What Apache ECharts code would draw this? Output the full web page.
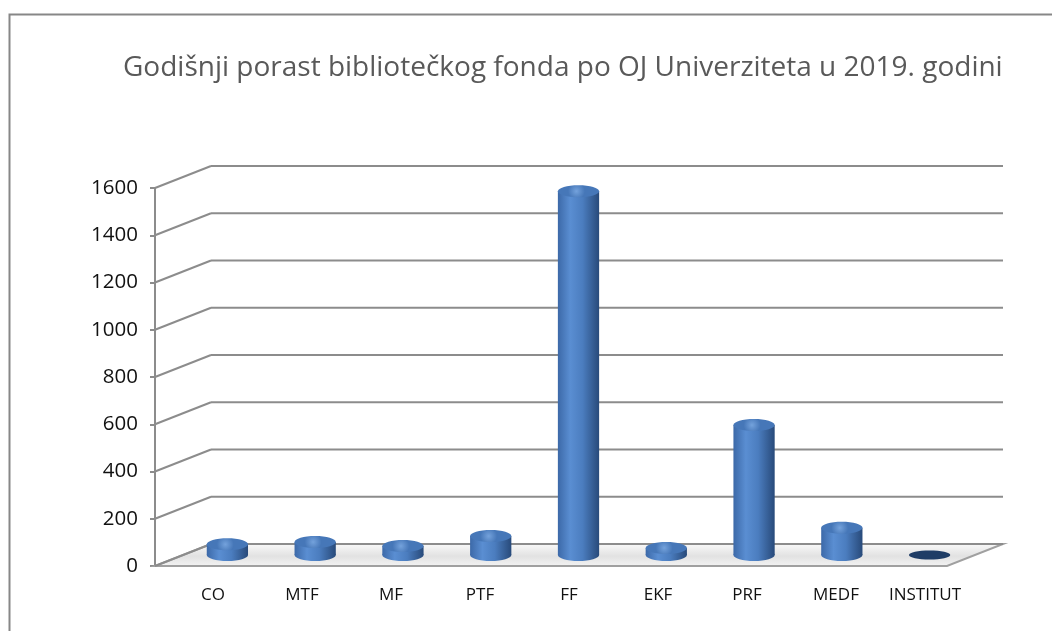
<!DOCTYPE html>
<html>
<head>
<meta charset="utf-8">
<script src="https://cdn.jsdelivr.net/npm/echarts@6/dist/echarts.min.js"></script>
<style>
  html, body { margin: 0; padding: 0; background: #fff; }
  #chart { width: 1052px; height: 631px; }
</style>
</head>
<body>
<div id="chart"></div>
<script>
// podaci
const categories = ['CO', 'MTF', 'MF', 'PTF', 'FF', 'EKF', 'PRF', 'MEDF', 'INSTITUT']
const values = [45, 55, 38, 80, 1540, 30, 550, 115, 0]
const yTicks = [0, 200, 400, 600, 800, 1000, 1200, 1400, 1600]
const titleText = 'Godišnji porast bibliotečkog fonda po OJ Univerziteta u 2019. godini'

const depth = [56, -22] // pomak zadnjeg zida
const lineColor = '#8c8c8c'
const font = 'Open Sans'

let chart = echarts.init(document.getElementById('chart'))

// pod
function renderFloor(params, api) {
    const a = api.coord([0, 0])
    const b = api.coord([categories.length, 0])
    return {
        type: 'polygon',
        shape: {
            points: [a, b, [b[0] + depth[0], b[1] + depth[1]], [a[0] + depth[0], a[1] + depth[1]]]
        },
        style: {
            fill: new echarts.graphic.LinearGradient(0, 0, 0, 1, [
                { offset: 0, color: '#fafafa' },
                { offset: 0.55, color: '#e2e2e2' },
                { offset: 1, color: '#f4f4f4' }
            ]),
            stroke: '#a0a0a0',
            lineWidth: 2
        }
    }
}

// linije mreze (kose + zadnji zid)
function renderGrid(params, api) {
    const v = api.value(1)
    const p0 = api.coord([0, v])
    const p1 = api.coord([categories.length, v])
    const l = [p0[0] + depth[0], p0[1] + depth[1]]
    const r = [p1[0] + depth[0], p1[1] + depth[1]]
    return {
        type: 'group',
        children: [
            { type: 'line', shape: { x1: p0[0], y1: p0[1], x2: l[0], y2: l[1] }, style: { stroke: lineColor, lineWidth: 2 } },
            { type: 'line', shape: { x1: l[0], y1: l[1], x2: r[0], y2: r[1] }, style: { stroke: lineColor, lineWidth: 2 } }
        ]
    }
}

// cilindri
function renderCylinder(params, api) {
    const i = api.value(0)
    const v = api.value(1)
    const base = api.coord([i, 0])
    const top = api.coord([i, v])
    const w = api.size([1, 0])[0] * 0.47
    const half = w / 2
    const ry = 6
    const bodyFill = new echarts.graphic.LinearGradient(0, 0, 1, 0, [
        { offset: 0, color: '#3c69a8' },
        { offset: 0.3, color: '#5a8ed2' },
        { offset: 0.6, color: '#4b7dbf' },
        { offset: 1, color: '#284a7a' }
    ])
    const children = []
    if (base[1] - top[1] > 1) {
        children.push({
            type: 'ellipse',
            shape: { cx: base[0], cy: base[1], rx: half, ry: ry },
            style: { fill: bodyFill }
        })
        children.push({
            type: 'rect',
            shape: { x: base[0] - half, y: top[1], width: w, height: base[1] - top[1] },
            style: { fill: bodyFill }
        })
        children.push({
            type: 'ellipse',
            shape: { cx: top[0], cy: top[1], rx: half, ry: ry },
            style: {
                fill: new echarts.graphic.RadialGradient(0.45, 0.5, 0.7, [
                    { offset: 0, color: '#74a2dc' },
                    { offset: 1, color: '#4677b8' }
                ])
            }
        })
    } else {
        children.push({
            type: 'ellipse',
            shape: { cx: base[0], cy: base[1], rx: half, ry: ry - 1.5 },
            style: { fill: '#1f3d66' }
        })
    }
    return { type: 'group', children: children }
}

let option = {
    backgroundColor: '#fff',
    animation: false,
    title: {
        text: titleText,
        left: 118,
        top: 49,
        textStyle: { fontFamily: font, fontSize: 28, fontWeight: 'normal', color: '#595959' }
    },
    graphic: [{
        type: 'rect',
        left: 7, top: 12,
        shape: { width: 1100, height: 700 },
        style: { fill: 'none', stroke: '#878787', lineWidth: 2 },
        silent: true
    }],
    grid: [
        // prednja ravan
        { left: 155, top: 188, width: 792, height: 378 },
        // ravan stubova (sredina dubine)
        { left: 183.5, top: 177, width: 790, height: 378 },
        // oznake kategorija
        { left: 168.5, top: 188, width: 801, height: 378 }
    ],
    xAxis: [
        { gridIndex: 0, type: 'value', min: 0, max: categories.length, show: false },
        { gridIndex: 1, type: 'category', data: categories, show: false },
        {
            gridIndex: 2, type: 'category', data: categories,
            axisLine: { show: false }, axisTick: { show: false },
            axisLabel: { interval: 0, hideOverlap: false, margin: 21, fontFamily: font, fontSize: 17, color: '#111' }
        }
    ],
    yAxis: [
        {
            gridIndex: 0, type: 'value', min: 0, max: 1600, interval: 200,
            axisLine: { show: true, lineStyle: { color: lineColor, width: 2 } },
            axisTick: { show: true, length: 5, lineStyle: { color: lineColor, width: 2 } },
            axisLabel: { margin: 17, fontFamily: font, fontSize: 20.5, color: '#111', formatter: v => String(v) },
            splitLine: { show: false }
        },
        { gridIndex: 1, type: 'value', min: 0, max: 1600, show: false },
        { gridIndex: 2, type: 'value', min: 0, max: 1600, show: false }
    ],
    series: [
        {
            type: 'custom', xAxisIndex: 0, yAxisIndex: 0, z: 1,
            renderItem: renderFloor,
            data: [[0, 0]]
        },
        {
            type: 'custom', xAxisIndex: 0, yAxisIndex: 0, z: 2,
            renderItem: renderGrid,
            data: yTicks.map(v => [0, v])
        },
        {
            type: 'custom', xAxisIndex: 1, yAxisIndex: 1, z: 3,
            renderItem: renderCylinder,
            data: values.map((v, i) => [i, v])
        }
    ]
}

chart.setOption(option)
</script>
</body>
</html>
